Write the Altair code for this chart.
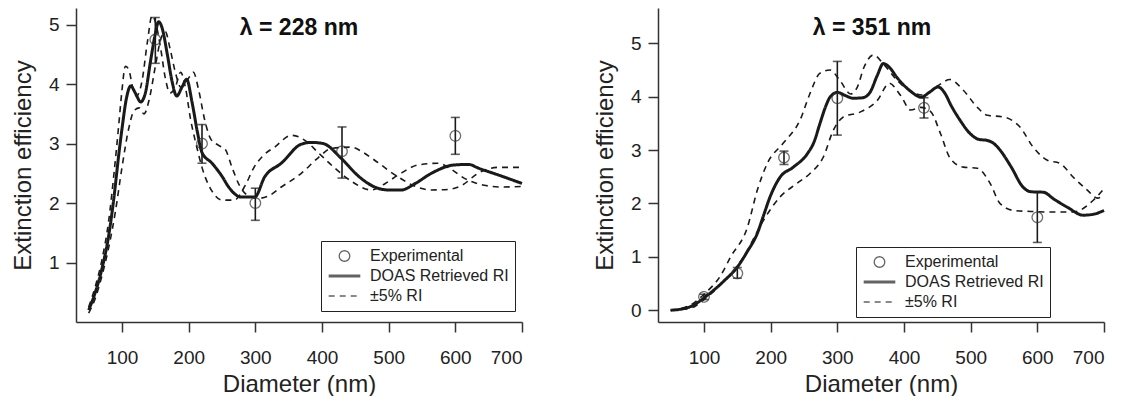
import altair as alt
import pandas as pd

FONT = "Liberation Sans"
SERIES = ["Experimental", "DOAS Retrieved RI", "±5% RI"]

# ---------------- λ = 228 nm ----------------
L_solid_d = [50, 60, 70, 80, 88, 95, 100, 107, 113, 120, 128, 135, 143, 150, 155, 160, 168, 175, 182, 190,
             197, 205, 213, 220, 235, 250, 260, 279, 299, 314, 339, 369, 385, 402, 429, 455, 479, 500, 519,
             540, 564, 598, 620, 634, 665, 700]
L_solid_q = [0.2, 0.5, 0.9, 1.45, 2.1, 2.8, 3.25, 3.78, 3.97, 3.85, 3.7, 3.85, 4.4, 4.85, 5.05, 4.95, 4.5, 4.05,
             3.8, 3.95, 4.08, 3.7, 3.2, 2.85, 2.67, 2.45, 2.27, 2.1, 2.1, 2.44, 2.67, 2.99, 3.02, 3.0, 2.75, 2.45,
             2.27, 2.22, 2.22, 2.33, 2.5, 2.64, 2.65, 2.59, 2.47, 2.33]
L_plus_d = [50, 60, 70, 80, 88, 95, 100, 105, 110, 116, 122, 130, 138, 145, 150, 158, 165, 172, 180, 188, 195,
            203, 212, 220, 235, 250, 268, 285, 298, 312, 330, 354, 375, 395, 420, 445, 474, 495, 514, 544, 574,
            595, 613, 643, 670, 700]
L_plus_q = [0.25, 0.6, 1.05, 1.7, 2.5, 3.3, 3.9, 4.3, 4.25, 3.95, 3.8, 4.05, 4.7, 5.15, 5.05, 4.6, 4.1, 3.85,
            3.95, 4.2, 3.95, 3.4, 2.95, 2.6, 2.2, 2.05, 2.05, 2.3, 2.6, 2.8, 2.95, 3.14, 3.05, 2.84, 2.58, 2.36,
            2.22, 2.33, 2.47, 2.64, 2.67, 2.56, 2.42, 2.3, 2.27, 2.28]
L_minus_d = [50, 60, 70, 80, 90, 100, 110, 118, 126, 133, 141, 150, 158, 165, 172, 180, 188, 197, 207, 215, 224,
             233, 245, 255, 265, 276, 290, 305, 320, 339, 369, 395, 414, 444, 462, 479, 514, 540, 564, 590, 610,
             634, 665, 700]
L_minus_q = [0.15, 0.4, 0.78, 1.25, 1.85, 2.6, 3.25, 3.55, 3.6, 3.5, 3.75, 4.3, 4.75, 4.88, 4.6, 4.2, 3.95, 4.05,
             4.2, 3.9, 3.4, 3.08, 2.97, 2.9, 2.6, 2.3, 2.12, 2.08, 2.12, 2.27, 2.5, 2.77, 2.92, 2.94, 2.85, 2.72,
             2.44, 2.28, 2.22, 2.23, 2.3, 2.5, 2.6, 2.6]
L_exp_d = [150, 220, 300, 430, 600]
L_exp_q = [4.75, 3.0, 2.0, 2.87, 3.13]
L_exp_lo = [4.35, 2.67, 1.71, 2.42, 2.82]
L_exp_hi = [5.12, 3.32, 2.25, 3.28, 3.44]

# ---------------- λ = 351 nm ----------------
R_solid_d = [50, 65, 80, 105, 130, 150, 165, 180, 190, 199, 214, 234, 255, 265, 274, 282, 289, 300, 312, 324,
             338, 349, 360, 369, 378, 390, 410, 426, 438, 451, 462, 470, 484, 499, 512, 525, 535, 544, 560, 579,
             590, 609, 625, 645, 669, 685, 700]
R_solid_q = [0.0, 0.02, 0.07, 0.28, 0.55, 0.81, 1.1, 1.44, 1.8, 2.12, 2.49, 2.68, 2.93, 3.15, 3.5, 3.8, 3.99,
             4.08, 4.02, 3.97, 3.98, 4.08, 4.4, 4.62, 4.55, 4.35, 4.1, 3.99, 4.08, 4.18, 4.05, 3.85, 3.56, 3.31,
             3.2, 3.18, 3.12, 3.0, 2.7, 2.3, 2.22, 2.21, 2.08, 1.93, 1.78, 1.8, 1.87]
R_plus_d = [50, 80, 100, 125, 140, 165, 180, 195, 219, 244, 259, 274, 289, 304, 320, 330, 340, 354, 370, 390,
            410, 428, 450, 469, 489, 510, 525, 549, 574, 594, 615, 634, 654, 675, 690, 700]
R_plus_q = [0.0, 0.1, 0.3, 0.65, 1.0, 1.55, 2.25, 2.75, 3.13, 3.56, 4.06, 4.44, 4.5, 4.3, 4.05, 4.18, 4.55, 4.78,
            4.6, 4.3, 4.1, 4.03, 4.2, 4.32, 4.12, 3.8, 3.65, 3.62, 3.43, 3.05, 2.81, 2.75, 2.49, 2.25, 2.1, 2.15]
R_minus_d = [50, 80, 100, 125, 150, 165, 189, 214, 240, 259, 279, 294, 309, 334, 360, 378, 395, 410, 425, 440,
             455, 469, 489, 510, 529, 544, 564, 590, 615, 654, 684, 700]
R_minus_q = [0.0, 0.04, 0.2, 0.48, 0.82, 1.12, 1.68, 2.12, 2.38, 2.56, 2.87, 3.37, 3.62, 3.71, 3.93, 4.25, 4.02,
             3.75, 3.8, 3.72, 3.3, 2.85, 2.68, 2.66, 2.38, 2.0, 1.87, 1.85, 1.84, 1.84, 2.06, 2.28]
R_exp_d = [100, 150, 220, 300, 430, 600]
R_exp_q = [0.25, 0.69, 2.86, 3.97, 3.79, 1.74]
R_exp_lo = [0.2, 0.6, 2.73, 3.28, 3.6, 1.27]
R_exp_hi = [0.3, 0.8, 2.98, 4.66, 3.98, 2.21]


def curves(sd, sq, pd_, pq, md, mq):
    rows = []
    for d, q in zip(sd, sq):
        rows.append({"d": d, "q": q, "series": SERIES[1], "grp": "solid"})
    for d, q in zip(pd_, pq):
        rows.append({"d": d, "q": q, "series": SERIES[2], "grp": "plus"})
    for d, q in zip(md, mq):
        rows.append({"d": d, "q": q, "series": SERIES[2], "grp": "minus"})
    return pd.DataFrame(rows)


def exp_df(d, q, lo, hi):
    return pd.DataFrame({"d": d, "q": q, "lo": lo, "hi": hi, "series": [SERIES[0]] * len(d)})


def panel(curve_df, e_df, title, ydom, yvals, leg_x, leg_y, title_dx):
    xs = alt.Scale(domain=[31, 700], nice=False, zero=False)
    ys = alt.Scale(domain=ydom, nice=False, zero=False)
    xax = alt.Axis(values=[100, 200, 300, 400, 500, 600, 700], title="Diameter (nm)",
                   labelPadding=16, titlePadding=5, titleFontSize=24)
    yax = alt.Axis(values=yvals, format="d", title="Extinction efficiency",
                   labelPadding=7, titlePadding=13, titleFontSize=24)

    dash_scale = alt.Scale(domain=SERIES, range=[[1, 0], [1, 0], [6, 5]])
    width_scale = alt.Scale(type="ordinal", domain=SERIES, range=[1.3, 3.0, 1.6])
    shape_scale = alt.Scale(domain=SERIES, range=["circle", "stroke", "stroke"])
    size_scale = alt.Scale(type="ordinal", domain=SERIES, range=[110, 1000, 1000])

    def leg():
        return alt.Legend(orient="none", legendX=leg_x, legendY=leg_y, title=None,
                          strokeColor="#222", padding=6, labelFont=FONT, labelFontSize=16,
                          labelColor="#222", symbolStrokeColor="#222", symbolFillColor="white",
                          clipHeight=18, labelOffset=8, fillColor="white")

    lines = alt.Chart(curve_df).mark_line(color="#1a1a1a", interpolate="monotone").encode(
        x=alt.X("d:Q", scale=xs, axis=xax),
        y=alt.Y("q:Q", scale=ys, axis=yax),
        detail="grp:N",
        strokeDash=alt.StrokeDash("series:N", scale=dash_scale, legend=leg()),
        strokeWidth=alt.StrokeWidth("series:N", scale=width_scale, legend=leg()),
    )
    err = alt.Chart(e_df).mark_rule(color="#1a1a1a", strokeWidth=1.6).encode(
        x="d:Q", y="lo:Q", y2="hi:Q")
    cap_lo = alt.Chart(e_df).mark_tick(color="#1a1a1a", orient="horizontal", size=9, thickness=1.6).encode(
        x="d:Q", y="lo:Q")
    cap_hi = alt.Chart(e_df).mark_tick(color="#1a1a1a", orient="horizontal", size=9, thickness=1.6).encode(
        x="d:Q", y="hi:Q")
    pts = alt.Chart(e_df).mark_point(color="#333", filled=False).encode(
        x="d:Q", y="q:Q",
        shape=alt.Shape("series:N", scale=shape_scale, legend=leg()),
        strokeDash=alt.StrokeDash("series:N", scale=dash_scale, legend=leg()),
        strokeWidth=alt.StrokeWidth("series:N", scale=width_scale, legend=leg()),
        size=alt.Size("series:N", scale=size_scale, legend=leg()),
    )
    return alt.layer(lines, err, cap_lo, cap_hi, pts).properties(
        width=446, height=314,
        title=alt.TitleParams(title, font=FONT, fontSize=23, fontWeight="bold", color="#111",
                              anchor="middle", frame="group", offset=-32, dx=title_dx),
    )


left = panel(curves(L_solid_d, L_solid_q, L_plus_d, L_plus_q, L_minus_d, L_minus_q),
             exp_df(L_exp_d, L_exp_q, L_exp_lo, L_exp_hi),
             "λ = 228 nm", [0, 5.28], [1, 2, 3, 4, 5], 245, 233, 0)
right = panel(curves(R_solid_d, R_solid_q, R_plus_d, R_plus_q, R_minus_d, R_minus_q),
              exp_df(R_exp_d, R_exp_q, R_exp_lo, R_exp_hi),
              "λ = 351 nm", [-0.22, 5.66], [0, 1, 2, 3, 4, 5], 198, 239, -9)

chart = alt.hconcat(left, right, spacing=65).resolve_scale(
    shape="independent", strokeDash="independent", strokeWidth="independent", size="independent"
).resolve_legend(
    shape="independent", strokeDash="independent", strokeWidth="independent", size="independent"
).configure(padding={"left": 3, "top": 0, "right": 0, "bottom": 0}, background="white"
).configure_view(stroke=None).configure_axis(
    grid=False, domainColor="#333", domainWidth=1.5, tickColor="#333", tickWidth=1.5, tickSize=10,
    labelFont=FONT, labelFontSize=19, labelColor="#222",
    titleFont=FONT, titleFontWeight="normal", titleColor="#222",
)

chart.save("out.html", embed_options={"renderer": "svg", "actions": False})
